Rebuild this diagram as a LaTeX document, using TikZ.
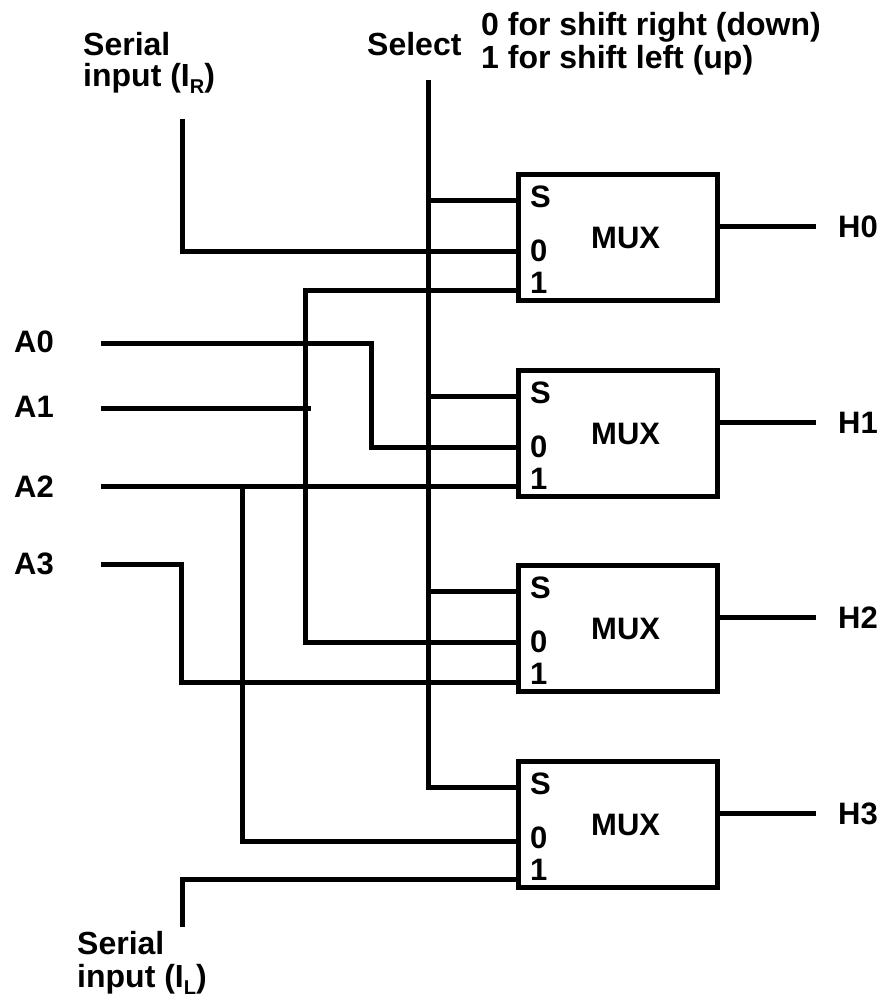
\documentclass[tikz,border=0pt]{standalone}
\usepackage{fontspec}
\setmainfont{Liberation Sans}
\tikzset{
	wire/.style={line width=5pt,color=black},
	muxbox/.style={draw,rectangle,minimum width=199pt,minimum height=126pt,inner sep=0pt,line width=5pt},
	lbl/.style={inner sep=0pt,anchor=base west,align=left,font=\fontsize{31}{33}\selectfont\bfseries},
	biglbl/.style={lbl,font=\fontsize{32}{34}\selectfont\bfseries},
}
\newcommand{\subsc}[1]{\raisebox{-7pt}{\fontsize{20}{20}\selectfont #1}}
\begin{document}
\begin{tikzpicture}[x=1pt,y=-1pt]
	\useasboundingbox (0,0) rectangle (885,997);
	% multiplexers with their ports and outputs
	\foreach \i/\d/\yz/\yo in {0/0/251/290,1/196/447/486,2/391.5/642/682,3/587/841/879}{
		\node[muxbox] (mux\i) at (617.5,237+\d){};
		\node[lbl] (muxname\i) at (591,248+\d){MUX};
		\node[lbl] (sel\i) at (530,207+\d){S};
		\node[lbl] (zero\i) at (530,261+\d){0};
		\node[lbl] (one\i) at (530,293+\d){1};
		\node[lbl] (h\i) at (838,237+\d){H\i};
		\coordinate (ps\i) at (518,200+\d);
		\coordinate (pz\i) at (518,\yz);
		\coordinate (po\i) at (518,\yo);
		\coordinate (pout\i) at (717,226+\d);
		\coordinate (end\i) at (816,226+\d);
		\draw[wire] (pout\i) -- (end\i);
	}
	% labels
	\node[biglbl] (irname) at (83,55){Serial};
	\node[biglbl] (irname2) at (83,86){input (I\subsc{R})};
	\node[biglbl] (selname) at (367,55){Select};
	\node[biglbl] (modeA) at (481,35){0 for shift right (down)};
	\node[biglbl] (modeB) at (481,68){1 for shift left (up)};
	\node[lbl] (a0) at (14,352){A0};
	\node[lbl] (a1) at (14,417){A1};
	\node[lbl] (a2) at (14,497){A2};
	\node[lbl] (a3) at (14,574){A3};
	\node[biglbl] (ilname) at (77,954){Serial};
	\node[biglbl] (ilname2) at (77,987){input (I\subsc{L})};
	% free wire ends
	\coordinate (seltop) at (428,80);
	\coordinate (irtop) at (182,119);
	\coordinate (ilend) at (182,927);
	\coordinate (a0end) at (101,343);
	\coordinate (a1end) at (101,408);
	\coordinate (a2end) at (101,486);
	\coordinate (a3end) at (101,564);
	\coordinate (a1stop) at (311,408);
	\coordinate (a2tap) at (242,486);
	% select line
	\draw[wire] (seltop) |- (ps3);
	\foreach \i in {0,...,2}{
		\draw[wire] (ps\i) -- (ps\i-|seltop);
	}
	% data inputs
	\draw[wire] (irtop) |- (pz0);
	\draw[wire] (po0) -| (305,642) -- (pz2);
	\draw[wire] (a0end) -| (371,447) -- (pz1);
	\draw[wire] (a1end) -- (a1stop);
	\draw[wire] (a2end) -- (po1);
	\draw[wire] (a2tap) |- (pz3);
	\draw[wire] (a3end) -| (181,682) -- (po2);
	\draw[wire] (po3) -| (ilend);
\end{tikzpicture}
\end{document}
